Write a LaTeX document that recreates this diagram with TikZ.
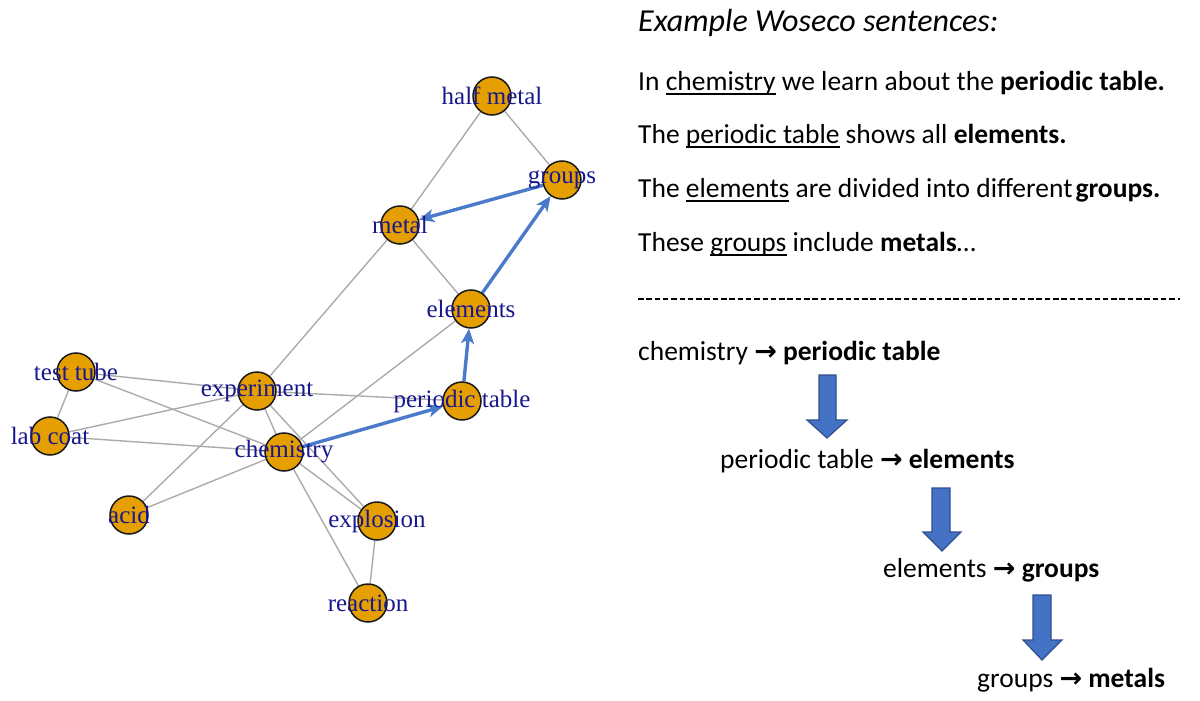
\documentclass[tikz,border=0pt]{standalone}
\usepackage{fontspec}
\setmainfont{Carlito}
\newfontfamily\gfont{Liberation Serif}
\newfontfamily\dvfont{DejaVu Sans}
\usetikzlibrary{arrows.meta,backgrounds}
\definecolor{vfill}{HTML}{E69F00}
\definecolor{lblue}{HTML}{4A7BCB}
\definecolor{ecol}{HTML}{ABABAB}
\definecolor{lcol}{RGB}{24,24,140}
\definecolor{bfill}{HTML}{4472C4}
\definecolor{bdraw}{HTML}{2F4F8F}
\newcommand\ulx[1]{{\setbox0\hbox{#1}\rlap{\rule[-4.5pt]{\wd0}{1.3pt}}\box0}}
\newcommand\rar{{\dvfont\bfseries\fontsize{27}{27}\selectfont →}}
\begin{document}
\begin{tikzpicture}[x=1pt,y=-1pt,
  vtx/.style={circle, draw=black!90, line width=1.5pt, fill=vfill, minimum size=38pt, inner sep=0pt,
    label={[lbl]center:#1}},
  lbl/.style={font=\gfont\fontsize{25}{25}\selectfont, text=lcol, inner sep=0pt},
  gedge/.style={draw=ecol, line width=1.4pt},
  bedge/.style={draw=lblue, line width=3.4pt, -{Stealth[length=15pt,width=13pt,inset=4pt]}},
  txt/.style={anchor=base west, inner sep=0pt, font=\fontsize{27.5}{33}\selectfont},
  barrow/.style={fill=bfill, draw=bdraw, line width=1.2pt, line join=miter}
]
\path[use as bounding box] (0,0) rectangle (1200,701);

% graph nodes
\node[vtx={half metal}] (halfmetal) at (492,96) {};
\node[vtx={groups}] (groups) at (562,180) {};
\node[vtx={metal}] (metal) at (400,225) {};
\node[vtx={elements}] (elements) at (471,309) {};
\node[vtx={test tube}] (testtube) at (76,372) {};
\node[vtx={experiment}] (experiment) at (257,391) {};
\node[vtx={periodic table}] (periodic) at (462,401) {};
\node[vtx={lab coat}] (labcoat) at (50,436) {};
\node[vtx={chemistry}] (chemistry) at (284,452) {};
\node[vtx={acid}] (acid) at (129,515) {};
\node[vtx={explosion}] (explosion) at (377,521) {};
\node[vtx={reaction}] (reaction) at (368,603) {};

\begin{scope}[on background layer]
\draw[gedge] (halfmetal) -- (metal);
\draw[gedge] (halfmetal) -- (groups);
\draw[gedge] (metal) -- (elements);
\draw[gedge] (metal) -- (experiment);
\draw[gedge] (elements) -- (chemistry);
\draw[gedge] (testtube) -- (experiment);
\draw[gedge] (testtube) -- (chemistry);
\draw[gedge] (testtube) -- (labcoat);
\draw[gedge] (labcoat) -- (experiment);
\draw[gedge] (labcoat) -- (chemistry);
\draw[gedge] (experiment) -- (periodic);
\draw[gedge] (experiment) -- (chemistry);
\draw[gedge] (experiment) -- (acid);
\draw[gedge] (experiment) -- (explosion);
\draw[gedge] (chemistry) -- (acid);
\draw[gedge] (chemistry) -- (explosion);
\draw[gedge] (chemistry) -- (reaction);
\draw[gedge] (explosion) -- (reaction);
\draw[bedge] (chemistry) -- (periodic);
\draw[bedge] (periodic) -- (elements);
\draw[bedge] (elements) -- (groups);
\draw[bedge] (groups) -- (metal);
\end{scope}

% text
\node[txt, font=\fontsize{32}{36}\selectfont\itshape] (title) at (638,32) {Example Woseco sentences:};
\node[txt] (s1) at (638,90) {In \ulx{chemistry} we learn about the \textbf{periodic table.}};
\node[txt] (s2) at (638,143) {The \ulx{periodic table} shows all \textbf{elements.}};
\node[txt] (s3) at (638,197) {The \ulx{elements} are divided into different\hspace{3pt}\textbf{groups.}};
\node[txt] (s4) at (638,251) {These \ulx{groups} include \textbf{metals}…};
\draw[dash pattern=on 5.5pt off 2.8pt, line width=1.5pt] (638,299) -- (1180,299);

\node[txt] (f1) at (638,360) {chemistry \rar{} \textbf{periodic table}};
\node[txt] (f2) at (720,468) {periodic table \rar{} \textbf{elements}};
\node[txt] (f3) at (883,577) {elements \rar{} \textbf{groups}};
\node[txt] (f4) at (977,687) {groups \rar{} \textbf{metals}};

\draw[barrow] (819,375) -- (836,375) -- (836,420) -- (847,420) -- (827,438) -- (807,420) -- (819,420) -- cycle;
\draw[barrow] (932,488) -- (950,488) -- (950,532) -- (961,532) -- (942,551) -- (923,532) -- (932,532) -- cycle;
\draw[barrow] (1033,595) -- (1051,595) -- (1051,640) -- (1062,640) -- (1042,660) -- (1023,640) -- (1033,640) -- cycle;
\end{tikzpicture}
\end{document}
